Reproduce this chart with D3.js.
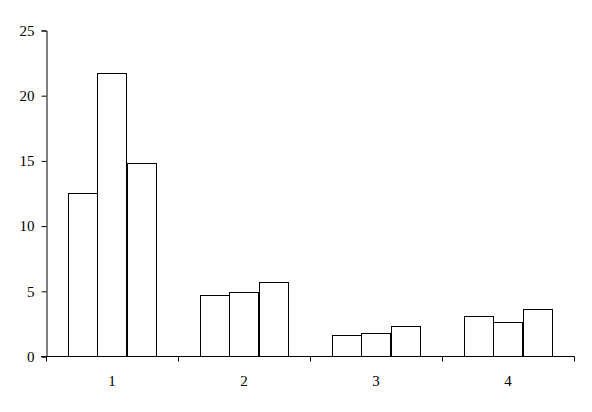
<!DOCTYPE html>
<html>
<head>
<meta charset="utf-8">
<script src="https://cdn.jsdelivr.net/npm/d3@7"></script>
<style>
  html, body { margin: 0; padding: 0; background: #fff; }
  #chart { width: 592px; height: 412px; }
</style>
</head>
<body>
<div id="chart"></div>
<script>
// categorias e séries
const categories = ['1', '2', '3', '4'];
const series1 = [12.5, 4.7, 1.6, 3.1];
const series2 = [21.7, 4.9, 1.8, 2.6];
const series3 = [14.8, 5.7, 2.3, 3.6];
const yTicks = [0, 5, 10, 15, 20, 25];

class BarChart {
  constructor({ container, categories, series }) {
    this.containerEl = d3.select(container);
    this.categories = categories;
    this.series = series;
  }

  load() {
    this.bounds = { left: 46, right: 574, top: 30, bottom: 356 };
    this.svgEl = this.containerEl.append('svg')
      .attr('width', 592)
      .attr('height', 412);
    let scales = this.getScales();
    this.createBars(scales);
    this.createAxes(scales);
  }

  getScales() {
    let x = d3.scaleBand()
      .domain(this.categories)
      .range([this.bounds.left, this.bounds.right]);
    // gap de 150% entre os grupos, igual ao excel
    let barWidth = x.bandwidth() / (this.series.length + 1.5);
    let gap = barWidth * 1.5;
    let xInner = d3.scaleBand()
      .domain(d3.range(this.series.length))
      .range([gap / 2, x.bandwidth() - gap / 2]);
    let y = d3.scaleLinear()
      .domain([0, 25])
      .range([this.bounds.bottom, this.bounds.top]);
    return { x, xInner, y };
  }

  createBars(scales) {
    let groupEl = this.svgEl.append('g')
      .selectAll('g')
      .data(this.categories)
      .enter()
      .append('g')
      .attr('transform', d => `translate(${scales.x(d)}, 0)`);

    groupEl.selectAll('rect')
      .data((d, i) => this.series.map((s, j) => ({ j, value: s[i] })))
      .enter()
      .append('rect')
      .attr('x', d => Math.round(scales.xInner(d.j)) + 0.5)
      .attr('width', d => Math.round(scales.xInner.bandwidth()))
      .attr('y', d => Math.round(scales.y(d.value)) + 0.5)
      .attr('height', d => scales.y(0) - Math.round(scales.y(d.value)))
      .attr('fill', 'white')
      .attr('stroke', 'black')
      .attr('stroke-width', 1);
  }

  createAxes(scales) {
    let font = '"Liberation Serif", "Times New Roman", serif';

    // eixo vertical
    let yAxisEl = this.svgEl.append('g')
      .attr('transform', `translate(${this.bounds.left + 0.5}, 0.5)`)
      .call(d3.axisLeft(scales.y).tickValues(yTicks).tickSize(5).tickPadding(7));
    this.styleAxis(yAxisEl, font);

    // eixo horizontal: traços nos limites das categorias
    let edges = scales.x.domain().map(c => scales.x(c)).concat([this.bounds.right]);
    let xAxisEl = this.svgEl.append('g')
      .attr('transform', `translate(0, ${this.bounds.bottom + 0.5})`);
    xAxisEl.append('line')
      .attr('x1', this.bounds.left - 5)
      .attr('x2', this.bounds.right + 0.5)
      .attr('stroke', 'black');
    xAxisEl.selectAll('line.tick')
      .data(edges)
      .enter()
      .append('line')
      .classed('tick', true)
      .attr('x1', d => Math.round(d) + 0.5)
      .attr('x2', d => Math.round(d) + 0.5)
      .attr('y1', 0)
      .attr('y2', 5)
      .attr('stroke', 'black');
    xAxisEl.selectAll('text')
      .data(scales.x.domain())
      .enter()
      .append('text')
      .text(d => d)
      .attr('x', d => scales.x(d) + scales.x.bandwidth() / 2)
      .attr('y', 29.5)
      .attr('text-anchor', 'middle')
      .attr('font-family', font)
      .attr('font-size', 15)
      .attr('fill', 'black');
  }

  styleAxis(nodes, font) {
    nodes.selectAll('.domain').attr('stroke', 'black');
    nodes.selectAll('.tick line').attr('stroke', 'black');
    nodes.selectAll('.tick text')
      .attr('font-family', font)
      .attr('font-size', 15)
      .attr('fill', 'black');
  }
}

let viz = new BarChart({
  container: '#chart',
  categories: categories,
  series: [series1, series2, series3]
});
viz.load();
</script>
</body>
</html>
